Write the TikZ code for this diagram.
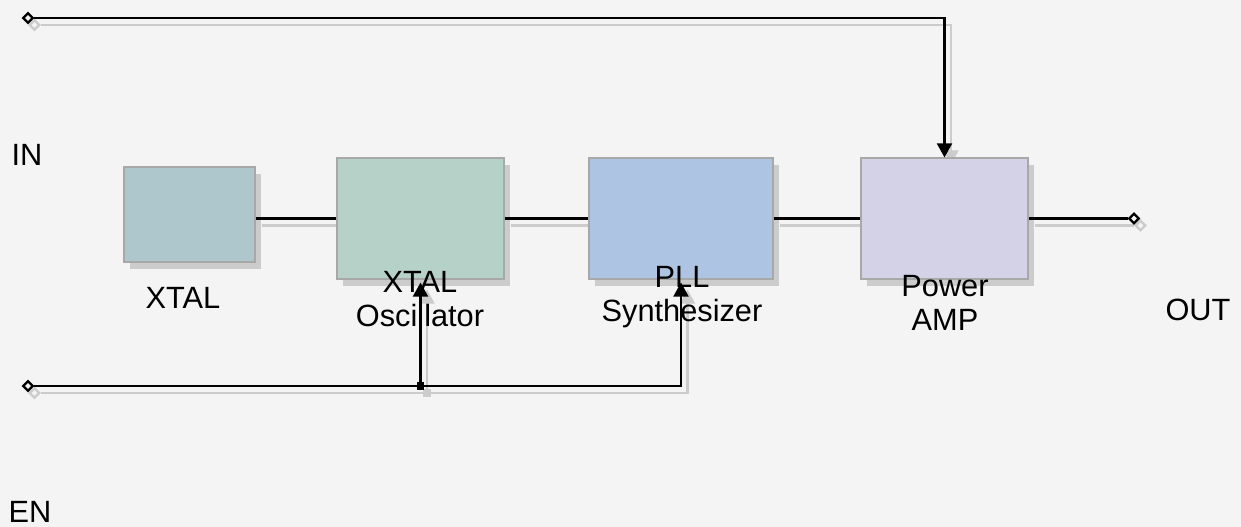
\documentclass[tikz,border=0pt]{standalone}
\usepackage{fontspec}
\setmainfont{Liberation Sans}
\usetikzlibrary{arrows.meta,shapes.geometric,shadows}
\definecolor{bg}{HTML}{F4F4F4}
\definecolor{ghostgray}{HTML}{CCCCCC}
\definecolor{boxline}{HTML}{A8A8A8}
\definecolor{xtalfill}{HTML}{AEC7CC}
\definecolor{oscfill}{HTML}{B6D2C8}
\definecolor{pllfill}{HTML}{AEC4E3}
\definecolor{ampfill}{HTML}{D4D2E7}
\pgfdeclarelayer{back}
\pgfsetlayers{back,main}
\tikzset{
	block/.style={draw=boxline, line width=0.6pt, inner sep=0pt,
		drop shadow={shadow xshift=0.12cm, shadow yshift=-0.14cm, opacity=1, fill=ghostgray}},
	port/.style={diamond, draw=black, fill=bg, line width=1.3pt, inner sep=0pt, minimum size=6pt,
		general shadow={shadow xshift=0.13cm, shadow yshift=-0.14cm, draw=ghostgray, fill=bg}},
	junction/.style={rectangle, fill=black, inner sep=0pt, minimum size=4pt,
		general shadow={shadow xshift=0.13cm, shadow yshift=-0.14cm, fill=ghostgray}},
	wire/.style={draw=black, line width=1.25pt},
	ghost/.style={draw=ghostgray, line width=1.25pt, transform canvas={shift={(0.13cm,-0.14cm)}}},
	tip/.style={-{Triangle[length=8pt,width=8.5pt]}},
	lbl/.style={font=\fontsize{17.5}{19.5}\selectfont, align=center, inner sep=0pt}
}
\begin{document}
\begin{tikzpicture}[x=0.02cm,y=-0.02cm]
	%canvas
	\begin{pgfonlayer}{back}
		\fill[bg] (0,0) rectangle (1241,527);
	\end{pgfonlayer}
	\useasboundingbox (0,0) rectangle (1241,527);
	
	%blocks
	\node[block, fill=xtalfill, minimum width=2.62cm, minimum height=1.9cm] (xtal) at (189.5,214.5) {};
	\node[block, fill=oscfill, minimum width=3.34cm, minimum height=2.42cm] (osc) at (420.5,218.5) {};
	\node[block, fill=pllfill, minimum width=3.68cm, minimum height=2.42cm] (pll) at (681,218.5) {};
	\node[block, fill=ampfill, minimum width=3.34cm, minimum height=2.42cm] (amp) at (944.5,218.5) {};
	
	%ports
	\node[port] (in) at (28,18) {};
	\node[port] (out) at (1134,218.5) {};
	\node[port] (en) at (28,386) {};
	\node[junction] (j) at (osc.south |- en) {};
	
	%shadow wires
	\begin{pgfonlayer}{back}
		\draw[ghost] (osc.west -| xtal.east) -- (osc.west);
		\draw[ghost] (osc.east) -- (pll.west);
		\draw[ghost] (pll.east) -- (amp.west);
		\draw[ghost] (amp.east) -- (out);
		\draw[ghost, tip] (in) -| (amp.north);
		\draw[ghost, tip] (en) -| ([yshift=-0.06cm]pll.south);
		\draw[ghost, tip] (j) -- ([yshift=-0.06cm]osc.south);
	\end{pgfonlayer}
	
	%wires
	\draw[wire] (osc.west -| xtal.east) -- (osc.west);
	\draw[wire] (osc.east) -- (pll.west);
	\draw[wire] (pll.east) -- (amp.west);
	\draw[wire] (amp.east) -- (out);
	\draw[wire, tip] (in) -| (amp.north);
	\draw[wire, tip] (en) -| ([yshift=-0.06cm]pll.south);
	\draw[wire, tip] (j) -- ([yshift=-0.06cm]osc.south);
	
	%labels
	\node[lbl] (lxtal) at (183,298) {XTAL};
	\node[lbl] (losc) at (420,299) {XTAL\\Oscillator};
	\node[lbl] (lpll) at (682,297) {PLL\\Synthesizer};
	\node[lbl] (lamp) at (945,303) {Power\\AMP};
	\node[lbl] (lin) at (27,155) {IN};
	\node[lbl] (lout) at (1198,310) {OUT};
	\node[lbl] (len) at (30,512) {EN};
\end{tikzpicture}
\end{document}
